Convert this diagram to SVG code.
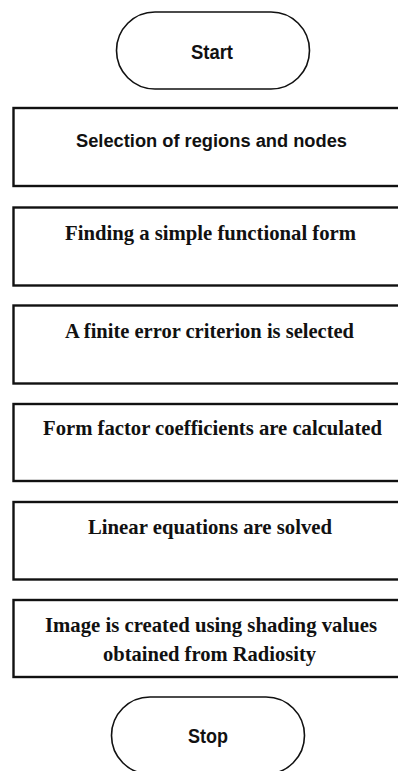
<svg xmlns="http://www.w3.org/2000/svg" width="398" height="771" viewBox="0 0 398 771">
<style>
.term{fill:#fff;stroke:#111;stroke-width:1.6}
.box{fill:#fff;stroke:#111;stroke-width:2.4}
.sans{font-family:"Liberation Sans","Open Sans",Arial,sans-serif;font-weight:bold;fill:#111;text-anchor:middle}
.serif{font-family:"Liberation Serif","DejaVu Serif","Times New Roman",serif;font-weight:bold;fill:#111;font-size:22px}
</style>
<rect width="398" height="771" fill="#fff"/>
<g id="connectors"></g>
<g id="start">
<rect class="term" x="116.5" y="12" width="193" height="77" rx="38.5" ry="38.5"/>
<text class="sans" x="212" y="59" font-size="20.5" textLength="42" lengthAdjust="spacingAndGlyphs">Start</text>
</g>
<g id="step1">
<rect class="box" x="13.5" y="108" width="400" height="78"/>
<text class="sans" x="211.5" y="147" font-size="17.5" textLength="271" lengthAdjust="spacingAndGlyphs">Selection of regions and nodes</text>
</g>
<g id="step2">
<rect class="box" x="13.5" y="207.5" width="400" height="78"/>
<text class="serif" x="65" y="240" textLength="291" lengthAdjust="spacingAndGlyphs">Finding a simple functional form</text>
</g>
<g id="step3">
<rect class="box" x="13.5" y="305.5" width="400" height="78"/>
<text class="serif" x="65" y="338" textLength="289" lengthAdjust="spacingAndGlyphs">A finite error criterion is selected</text>
</g>
<g id="step4">
<rect class="box" x="13.5" y="404" width="400" height="77"/>
<text class="serif" x="43" y="435" textLength="339" lengthAdjust="spacingAndGlyphs">Form factor coefficients are calculated</text>
</g>
<g id="step5">
<rect class="box" x="13.5" y="502" width="400" height="77.5"/>
<text class="serif" x="88" y="534" textLength="244" lengthAdjust="spacingAndGlyphs">Linear equations are solved</text>
</g>
<g id="step6">
<rect class="box" x="13.5" y="600" width="400" height="77"/>
<text class="serif" x="45" y="632" textLength="332" lengthAdjust="spacingAndGlyphs">Image is created using shading values</text>
<text class="serif" x="103" y="661" textLength="213" lengthAdjust="spacingAndGlyphs">obtained from Radiosity</text>
</g>
<g id="stop">
<rect class="term" x="111.5" y="697" width="193" height="77" rx="38.5" ry="38.5"/>
<text class="sans" x="208" y="743" font-size="20.5" textLength="40" lengthAdjust="spacingAndGlyphs">Stop</text>
</g>
</svg>
